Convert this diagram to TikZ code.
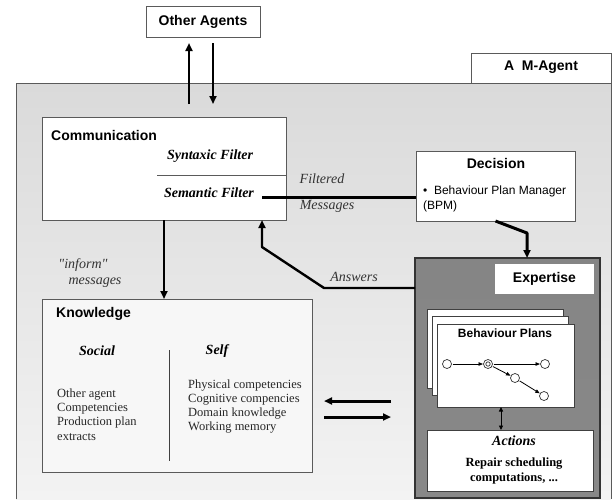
\documentclass[tikz,border=0pt]{standalone}
\usepackage{fontspec}
\setmainfont{Liberation Serif}
\newfontfamily\serifplain{Liberation Serif}
\newfontfamily\arialf{Liberation Sans}
\usetikzlibrary{arrows.meta}
\definecolor{bgtop}{HTML}{DADADA}
\definecolor{bgbot}{HTML}{F3F3F3}
\definecolor{bordc}{HTML}{5A5A5A}
\definecolor{expt}{HTML}{858585}
\definecolor{expm}{HTML}{B0B0B0}
\definecolor{expb}{HTML}{888888}
\definecolor{txtg}{HTML}{333333}
\begin{document}
\begin{tikzpicture}[x=1pt,y=-1pt,
  box/.style={draw=bordc, line width=0.8pt, fill=white, inner sep=0pt, outer sep=0pt},
  sb/.style={font=\arialf\bfseries\fontsize{#1}{#1}\selectfont, inner sep=0pt},
  sr/.style={font=\arialf\fontsize{#1}{15}\selectfont, inner sep=0pt},
  tbi/.style={font=\bfseries\itshape\fontsize{#1}{#1}\selectfont, inner sep=0pt},
  ti/.style={font=\itshape\fontsize{14}{14}\selectfont, text=txtg, inner sep=0pt},
  tlist/.style={font=\fontsize{12.5}{14.3}\selectfont, align=left, text=black!85, inner sep=0pt},
  arr/.style={line width=#1, -{Triangle[length=8pt,width=7pt]}},
  thk/.style={line width=#1},
  circ/.style={draw=black!80, fill=white, circle, minimum size=9pt, inner sep=0pt, outer sep=0pt, line width=0.7pt},
  sarr/.style={line width=0.8pt, -{Triangle[length=4.5pt,width=3.5pt]}, shorten <=1pt, shorten >=0.5pt}
]
\useasboundingbox (0,0) rectangle (612,499);
\fill[white] (0,0) rectangle (612,499);
% agent background
\shade[top color=bgtop, bottom color=bgbot] (16,83) rectangle (611,499);
\draw[bordc, line width=1pt] (16,499) -- (16,83) -- (611,83) -- (611,499);

% top boxes
\node[box, minimum width=114pt, minimum height=31pt] (oa) at (203,21.5) {};
\node[sb=14] at (oa.center) {Other Agents};
\node[box, minimum width=140pt, minimum height=30pt] (ma) at (541,68) {};
\node[sb=14] at (541,67) {A\ \ M-Agent};

\coordinate (upS) at (189,104);
\coordinate (dnE) at (213,104);
\draw[arr=2pt, shorten >=6pt] (upS) -- (upS |- oa.south);
\draw[arr=2pt, shorten <=6pt] (dnE |- oa.south) -- (dnE);

% Communication
\node[box, minimum width=244pt, minimum height=103pt] (comm) at (164,168.5) {};
\node[sb=14, anchor=west] at (51,135) {Communication};
\node[tbi=14] at (210,156) {Syntaxic Filter};
\coordinate (synL) at (157,175);
\draw[bordc, line width=0.8pt] (synL) -- (synL -| comm.east);
\node[tbi=14] (sem) at (209,193) {Semantic Filter};

% Decision
\node[box, minimum width=159pt, minimum height=70pt] (dec) at (495.5,186) {};
\node[sb=14] at (496,163) {Decision};
\node[sr=12, anchor=north west, align=left] at (423,186) {\textbullet\ \ Behaviour Plan Manager\\(BPM)};

\coordinate (fm) at (262,197);
\draw[thk=3pt] (fm) -- (fm -| dec.west);
\node[ti] at (322,179) {Filtered};
\node[ti] at (327,206) {Messages};

% Knowledge
\node[box, fill=white!97!black, minimum width=270pt, minimum height=173pt] (know) at (177,385.5) {};
\node[sb=14, anchor=west] at (56,314) {Knowledge};
\node[tbi=14] at (97,351) {Social};
\node[tbi=14] at (217,351) {Self};
\draw[black!75, line width=0.8pt] (169,350) -- (169,461);
\node[tlist, anchor=west] at (57,414.5) {Other agent\\Competencies\\Production plan\\extracts};
\node[tlist, anchor=west] at (188,406.5) {Physical competencies\\Cognitive compencies\\Domain knowledge\\Working memory};

\coordinate (ck) at (164,0);
\draw[arr=2.4pt] (ck |- comm.south) -- (ck |- know.north);
\node[ti, font=\serifplain\itshape\fontsize{14}{14}\selectfont] at (83,265) {"inform"};
\node[ti] at (95,283) {messages};

% Expertise
\node[draw=black!80, line width=1.2pt, top color=expt, middle color=expm, bottom color=expb, inner sep=0pt, outer sep=0pt, minimum width=185pt, minimum height=240pt] (exp) at (507.5,378) {};
\node[box, draw=none, minimum width=99pt, minimum height=30pt] (expl) at (544.5,279) {};
\node[sb=14] at (expl.center) {Expertise};

\coordinate (dbend) at (527,233);
\draw[arr=3pt, line join=round] (dec.south) -- (dbend) -- (dbend |- exp.north);

\coordinate (ans1) at (324,288);
\coordinate (ans2) at (262,247);
\draw[arr=2.4pt, line join=round] (exp.west |- ans1) -- (ans1) -- (ans2) -- (ans2 |- comm.south);
\node[ti] at (354,277) {Answers};

% Behaviour plans
\node[box, draw=black!75, minimum width=136pt, minimum height=79pt] (bp3) at (495,348.5) {};
\node[box, draw=black!75, minimum width=136pt, minimum height=79pt] (bp2) at (500,355.5) {};
\node[box, draw=black!75, minimum width=137pt, minimum height=83pt] (bp) at (505.5,365.5) {};
\node[sb=12] at (505,333) {Behaviour Plans};
\node[circ] (c1) at (447,364) {};
\node[circ] (c2) at (488,364) {};
\draw[black!80, line width=0.7pt] (c2.center) circle (2.2pt);
\node[circ] (c3) at (545,364) {};
\node[circ] (c4) at (515,378) {};
\node[circ] (c5) at (544,396) {};
\draw[sarr] (c1) -- (c2);
\draw[sarr] (c2) -- (c3);
\draw[sarr] (c2) -- (c4);
\draw[sarr] (c4) -- (c5);

% Actions
\node[box, draw=black!75, minimum width=166pt, minimum height=61pt] (act) at (510,460.5) {};
\node[tbi=14] at (514,441) {Actions};
\node[font=\bfseries\fontsize{12.5}{15}\selectfont, align=center, inner sep=0pt] at (514,470.5) {Repair scheduling\\computations, ...};

\coordinate (ba) at (501,0);
\draw[line width=0.9pt, {Triangle[length=4.5pt,width=4pt]}-{Triangle[length=4.5pt,width=4pt]}] (ba |- bp.south) -- (ba |- act.north);

% Knowledge <-> Expertise
\coordinate (ke1) at (391,401);
\coordinate (ke2) at (324,401);
\coordinate (ke3) at (324,417);
\coordinate (ke4) at (391,417);
\draw[arr=3pt] (ke1) -- (ke2);
\draw[arr=3pt] (ke3) -- (ke4);
\end{tikzpicture}
\end{document}
